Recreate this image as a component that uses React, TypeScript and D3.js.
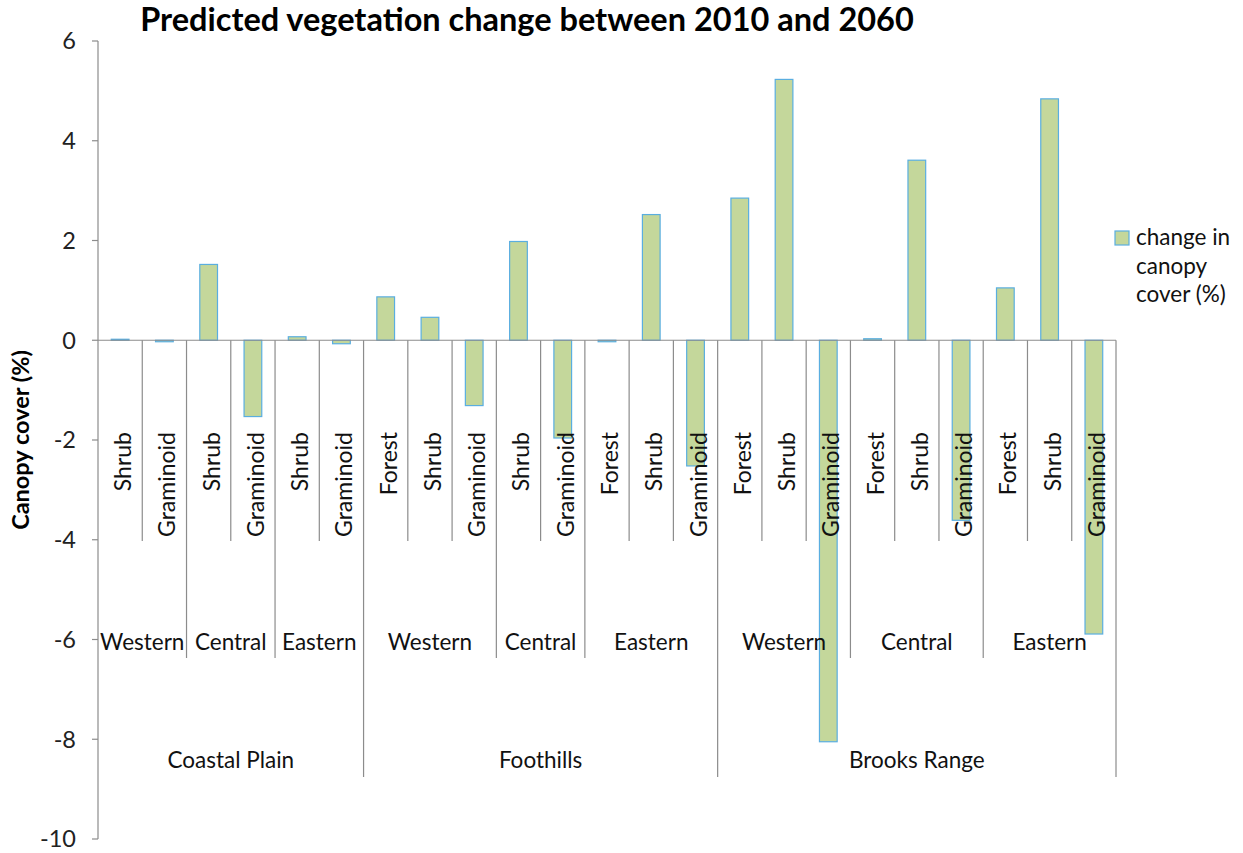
import React from "react";
import * as d3 from "d3";

const title = "Predicted vegetation change between 2010 and 2060";
const yTitle = "Canopy cover (%)";
const legendLines = ["change in", "canopy", "cover (%)"];

const regions = [
  "Coastal Plain", "Coastal Plain", "Coastal Plain", "Coastal Plain", "Coastal Plain", "Coastal Plain",
  "Foothills", "Foothills", "Foothills", "Foothills", "Foothills", "Foothills", "Foothills", "Foothills",
  "Brooks Range", "Brooks Range", "Brooks Range", "Brooks Range", "Brooks Range", "Brooks Range", "Brooks Range", "Brooks Range", "Brooks Range",
];
const zones = [
  "Western", "Western", "Central", "Central", "Eastern", "Eastern",
  "Western", "Western", "Western", "Central", "Central", "Eastern", "Eastern", "Eastern",
  "Western", "Western", "Western", "Central", "Central", "Central", "Eastern", "Eastern", "Eastern",
];
const vegTypes = [
  "Shrub", "Graminoid", "Shrub", "Graminoid", "Shrub", "Graminoid",
  "Forest", "Shrub", "Graminoid", "Shrub", "Graminoid", "Forest", "Shrub", "Graminoid",
  "Forest", "Shrub", "Graminoid", "Forest", "Shrub", "Graminoid", "Forest", "Shrub", "Graminoid",
];
const values = [
  0.02, -0.03, 1.52, -1.53, 0.07, -0.07,
  0.87, 0.46, -1.31, 1.98, -1.96, -0.03, 2.52, -2.52,
  2.85, 5.23, -8.05, 0.03, 3.61, -3.61, 1.05, 4.84, -5.89,
];
const yTicks = [6, 4, 2, 0, -2, -4, -6, -8, -10];

const W = 1243;
const H = 853;
const left = 98;
const right = 1116;
const top = 41;
const bottom = 839;
const lvl1End = 541;
const lvl2End = 658;
const lvl3End = 777;
const font = "Lato, 'Open Sans', sans-serif";
const axisColor = "#8c8c8c";

function runs(labels: string[], keyFn: (i: number) => string) {
  const out: { label: string; start: number; end: number; key: string }[] = [];
  labels.forEach((l, i) => {
    const k = keyFn(i);
    const last = out[out.length - 1];
    if (last && last.key === k) last.end = i;
    else out.push({ label: l, start: i, end: i, key: k });
  });
  return out;
}

export default function App() {
  const idx = values.map((_, i) => String(i));
  const x = d3.scaleBand<string>().domain(idx).range([left, right]).paddingInner(0).paddingOuter(0);
  const y = d3.scaleLinear().domain([-10, 6]).range([bottom, top]);
  const bw = x.bandwidth();
  const barW = bw / 2.5;
  const y0 = y(0);

  const zoneRuns = runs(zones, (i) => regions[i] + "|" + zones[i]);
  const regionRuns = runs(regions, (i) => regions[i]);

  const lines: { x: number; y2: number }[] = [];
  for (let i = 1; i < values.length; i++) {
    const bx = x(String(i))!;
    let y2 = lvl1End;
    if (regions[i] !== regions[i - 1]) y2 = lvl3End;
    else if (zones[i] !== zones[i - 1]) y2 = lvl2End;
    lines.push({ x: bx, y2 });
  }

  return (
    <svg width={W} height={H} style={{ position: "absolute", left: 0, top: 0, background: "#fff" }} fontFamily={font}>
      <rect x={0} y={0} width={W} height={H} fill="#fff" />
      <text x={527} y={31} textAnchor="middle" fontSize={32.5} fontWeight="bold" fill="#000">{title}</text>

      {/* y axis */}
      <line x1={left} x2={left} y1={top} y2={bottom} stroke={axisColor} strokeWidth={1.2} />
      {yTicks.map((t) => (
        <g key={t}>
          <line x1={left - 6} x2={left} y1={y(t)} y2={y(t)} stroke={axisColor} strokeWidth={1.2} />
          <text x={76} y={y(t)} dy="0.36em" textAnchor="end" fontSize={23.5} fill="#222">{t}</text>
        </g>
      ))}
      <text transform={`translate(29,${(top + bottom) / 2}) rotate(-90)`} textAnchor="middle" fontSize={23.5} fontWeight="bold" fill="#000">{yTitle}</text>

      {/* category separators */}
      {lines.map((l, i) => (
        <line key={i} x1={l.x} x2={l.x} y1={y0} y2={l.y2} stroke={axisColor} strokeWidth={1.2} />
      ))}
      <line x1={right} x2={right} y1={y0} y2={lvl3End} stroke={axisColor} strokeWidth={1.2} />

      {/* bars */}
      {values.map((v, i) => {
        const cx = x(String(i))! + bw / 2;
        const yt = Math.min(y(v), y0);
        const h = Math.abs(y(v) - y0);
        return (
          <rect key={i} x={cx - barW / 2} y={yt} width={barW} height={Math.max(h, 0.5)}
            fill="#c4d79b" stroke="#5aaee0" strokeWidth={1.2} />
        );
      })}

      {/* zero line */}
      <line x1={left} x2={right} y1={y0} y2={y0} stroke={axisColor} strokeWidth={1.2} />

      {/* level 1 labels */}
      {vegTypes.map((t, i) => {
        const cx = x(String(i))! + bw / 2;
        return (
          <text key={i} transform={`translate(${cx + 11},432) rotate(-90)`} textAnchor="end" fontSize={23} fill="#111">{t}</text>
        );
      })}

      {/* level 2 labels */}
      {zoneRuns.map((r, i) => {
        const cx = (x(String(r.start))! + x(String(r.end))! + bw) / 2;
        return (
          <text key={i} x={cx} y={650} textAnchor="middle" fontSize={22.5} fill="#111">{r.label}</text>
        );
      })}

      {/* level 3 labels */}
      {regionRuns.map((r, i) => {
        const cx = (x(String(r.start))! + x(String(r.end))! + bw) / 2;
        return (
          <text key={i} x={cx} y={768} textAnchor="middle" fontSize={22.5} fill="#111">{r.label}</text>
        );
      })}

      {/* legend */}
      <rect x={1115} y={231} width={14} height={14} fill="#c4d79b" stroke="#5aaee0" strokeWidth={1.2} />
      {legendLines.map((l, i) => (
        <text key={i} x={1136} y={245 + i * 28.5} fontSize={22.5} fill="#111">{l}</text>
      ))}
    </svg>
  );
}
